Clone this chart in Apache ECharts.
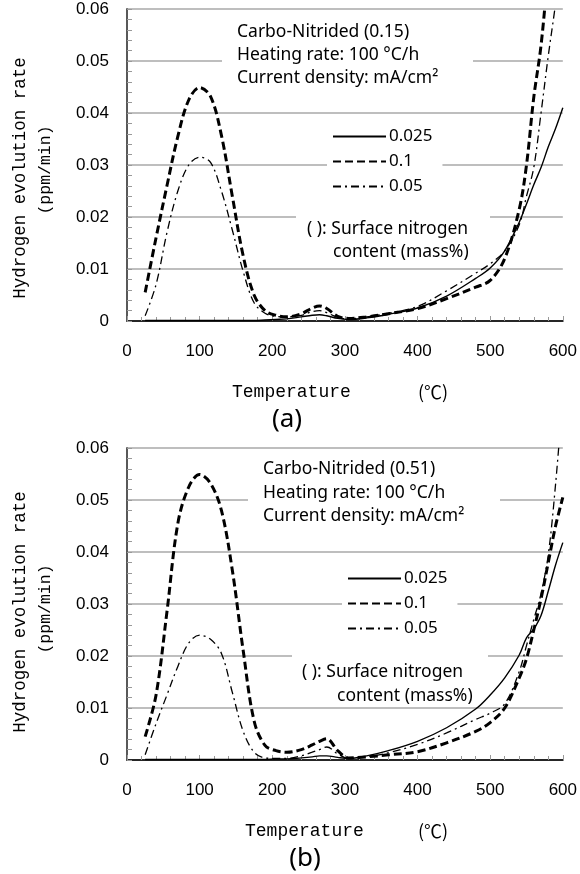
<!DOCTYPE html>
<html>
<head>
<meta charset="utf-8">
<title>Hydrogen evolution rate</title>
<script src="https://cdn.jsdelivr.net/npm/echarts@6/dist/echarts.min.js"></script>
<style>
    html, body { margin: 0; padding: 0; background: #fff; }
    #main { width: 580px; height: 874px; }
</style>
</head>
<body>
<div id="main"></div>
<script>
// temperature (°C) sampled for every curve
var temps = [25, 40, 55, 70, 85, 100, 115, 130, 145, 160, 175, 190, 205, 220, 240, 255, 265, 275,
             290, 305, 330, 360, 400, 440, 480, 500, 520, 540, 550, 560, 570, 580, 590, 600];

// (a) Carbo-Nitrided (0.15)
var a025 = [0.0001, 0.0001, 0.0001, 0.0001, 0.0001, 0.0001, 0.0001, 0.0001, 0.0001, 0.0001, 0.0001, 0.0002,
            0.0003, 0.0004, 0.0008, 0.0011, 0.0012, 0.0010, 0.0005, 0.0003, 0.0006, 0.0013, 0.0025, 0.0048,
            0.0082, 0.0102, 0.0135, 0.0190, 0.0225, 0.0262, 0.0295, 0.0335, 0.0370, 0.0410];
var a01  = [0.0055, 0.0160, 0.0260, 0.0355, 0.0425, 0.0449, 0.0432, 0.0357, 0.0240, 0.0125, 0.0050, 0.0020,
            0.0011, 0.0008, 0.0014, 0.0025, 0.0029, 0.0024, 0.0009, 0.0005, 0.0008, 0.0014, 0.0024, 0.0043,
            0.0065, 0.0078, 0.0120, 0.0215, 0.0300, 0.0430, 0.0530, 0.0680, 0.0850, 0.1000];
var a005 = [0.0010, 0.0070, 0.0170, 0.0250, 0.0300, 0.0315, 0.0305, 0.0250, 0.0175, 0.0095, 0.0035, 0.0015,
            0.0009, 0.0008, 0.0011, 0.0018, 0.0020, 0.0016, 0.0007, 0.0004, 0.0008, 0.0015, 0.0028, 0.0058,
            0.0092, 0.0110, 0.0135, 0.0185, 0.0240, 0.0295, 0.0400, 0.0510, 0.0610, 0.0720];

// (b) Carbo-Nitrided (0.51)
var b025 = [0.0001, 0.0001, 0.0001, 0.0001, 0.0001, 0.0001, 0.0001, 0.0001, 0.0001, 0.0001, 0.0001, 0.0001,
            0.0002, 0.0002, 0.0004, 0.0006, 0.0008, 0.0008, 0.0005, 0.0003, 0.0008, 0.0018, 0.0036, 0.0062,
            0.0098, 0.0125, 0.0158, 0.0202, 0.0235, 0.0252, 0.0278, 0.0325, 0.0375, 0.0418];
var b01  = [0.0045, 0.0125, 0.0285, 0.0455, 0.0525, 0.0549, 0.0532, 0.0480, 0.0365, 0.0210, 0.0075, 0.0028,
            0.0018, 0.0015, 0.0020, 0.0029, 0.0036, 0.0041, 0.0018, 0.0004, 0.0006, 0.0010, 0.0016, 0.0033,
            0.0055, 0.0072, 0.0100, 0.0158, 0.0195, 0.0250, 0.0310, 0.0380, 0.0450, 0.0505];
var b005 = [0.0010, 0.0070, 0.0125, 0.0180, 0.0225, 0.0240, 0.0232, 0.0205, 0.0130, 0.0055, 0.0015, 0.0004,
            0.0003, 0.0003, 0.0008, 0.0015, 0.0020, 0.0025, 0.0012, 0.0003, 0.0006, 0.0014, 0.0030, 0.0052,
            0.0078, 0.0090, 0.0108, 0.0170, 0.0220, 0.0270, 0.0320, 0.0395, 0.0530, 0.0700];

var names = ['0.025', '0.1', '0.05'];
var xTicks = [0, 100, 200, 300, 400, 500, 600];

var SANS = '"Noto Sans", "Liberation Sans", sans-serif';
var ARIAL = '"Liberation Sans", Arial, sans-serif';
var MONO = '"Liberation Mono", "DejaVu Sans Mono", monospace';

function pairs(vals) {
    return temps.map(function (t, i) { return [t, vals[i]]; });
}

var styles = {
    '0.025': { width: 1.4, type: 'solid' },
    '0.1':   { width: 3, type: [8, 4] },
    '0.05':  { width: 1.3, type: [8, 4, 2, 4] }
};

function line(name, vals, idx) {
    return {
        name: name, type: 'line', xAxisIndex: idx, yAxisIndex: idx,
        data: pairs(vals), smooth: 0.35, symbol: 'none', z: 3,
        color: '#000',
        lineStyle: { color: '#000', width: styles[name].width, type: styles[name].type }
    };
}

function xAxis(g) {
    return {
        type: 'value', gridIndex: g, min: 0, max: 600, interval: 100,
        axisLine: { show: true, onZero: false, lineStyle: { color: '#999', width: 2 } },
        axisTick: { show: true, inside: true, length: 5, lineStyle: { color: '#999' } },
        minorTick: { show: true, splitNumber: 5, length: 4, lineStyle: { color: '#999' } },
        splitLine: { show: false },
        axisLabel: { margin: 22, fontSize: 17, fontFamily: ARIAL, color: '#000',
            formatter: function (v) { return xTicks.indexOf(v) >= 0 ? String(v) : ''; } }
    };
}

function yAxis(g) {
    return {
        type: 'value', gridIndex: g, min: 0, max: 0.06, interval: 0.01,
        axisLine: { show: true, onZero: false, lineStyle: { color: '#999', width: 2 } },
        axisTick: { show: true, inside: true, length: 5, lineStyle: { color: '#999' } },
        minorTick: { show: true, splitNumber: 5, length: 5, lineStyle: { color: '#999' } },
        splitLine: { show: true, lineStyle: { color: '#a8a8a8', width: 1.5 } },
        axisLabel: { margin: 18, fontSize: 17, fontFamily: ARIAL, color: '#000',
            formatter: function (v) { return v === 0 ? '0' : v.toFixed(2); } }
    };
}

function frameX(g) {
    return { type: 'value', gridIndex: g, position: 'top', min: 0, max: 600,
        axisLine: { show: true, lineStyle: { color: '#000', width: 1.5 } },
        axisTick: { show: false }, axisLabel: { show: false }, splitLine: { show: false } };
}

function frameY(g) {
    return { type: 'value', gridIndex: g, position: 'right', min: 0, max: 0.06,
        axisLine: { show: true, lineStyle: { color: '#444', width: 1.5 } },
        axisTick: { show: false }, axisLabel: { show: false }, splitLine: { show: false } };
}

function legend(left, top) {
    return {
        left: left, top: top, orient: 'vertical', data: names, selectedMode: false,
        itemWidth: 53, itemHeight: 14, itemGap: 8, padding: [5, 10, 5, 5],
        backgroundColor: '#fff',
        itemStyle: { opacity: 0 },
        textStyle: { fontSize: 17, fontFamily: SANS, color: '#000', padding: [0, 0, 0, -2] }
    };
}

function box(x, y, w, h) {
    return { type: 'rect', z: 1, shape: { x: x, y: y, width: w, height: h }, style: { fill: '#fff' } };
}

function txt(s, x, y, font, align, rot) {
    return {
        type: 'text', z: 5, x: x, y: y, rotation: rot || 0,
        style: { text: s, font: font, fill: '#000', textAlign: align || 'left', textVerticalAlign: 'middle' }
    };
}

var note = '17.5px ' + SANS;
var monoBig = '18px ' + MONO;

var chart = echarts.init(document.getElementById('main'));
chart.setOption({
    animation: false,
    backgroundColor: '#fff',
    grid: [
        { left: 127, top: 9, width: 438, height: 312 },
        { left: 127, top: 448, width: 438, height: 312 }
    ],
    xAxis: [xAxis(0), xAxis(1), frameX(0), frameX(1)],
    yAxis: [yAxis(0), yAxis(1), frameY(0), frameY(1)],
    legend: [legend(327, 123), legend(342, 565)],
    series: [
        line('0.025', a025, 0), line('0.1', a01, 0), line('0.05', a005, 0),
        line('0.025', b025, 1), line('0.1', b01, 1), line('0.05', b005, 1)
    ],
    graphic: { elements: [
        box(222, 18, 251, 74),
        box(296, 207, 194, 55),
        box(248, 455, 252, 74),
        box(292, 650, 196, 54),

        txt('Carbo-Nitrided (0.15)', 237, 32, note),
        txt('Heating rate: 100 °C/h', 237, 55, note),
        txt('Current density: mA/cm²', 237, 78, note),
        txt('( ): Surface nitrogen', 307, 229, note),
        txt('content (mass%)', 333, 252, note),
        txt('Temperature', 232, 392, monoBig),
        txt('(℃)', 418, 392, '18px "Noto Sans CJK JP", sans-serif'),
        txt('(a)', 287, 420, '26px ' + SANS, 'center'),
        txt('Hydrogen evolution rate', 20, 178, '17.5px ' + MONO, 'center', Math.PI / 2),
        txt('(ppm/min)', 46, 170, '16.5px ' + MONO, 'center', Math.PI / 2),

        txt('Carbo-Nitrided (0.51)', 263, 469, note),
        txt('Heating rate: 100 °C/h', 263, 493, note),
        txt('Current density: mA/cm²', 263, 516, note),
        txt('( ): Surface nitrogen', 302, 672, note),
        txt('content (mass%)', 337, 696, note),
        txt('Temperature', 245, 831, monoBig),
        txt('(℃)', 418, 831, '18px "Noto Sans CJK JP", sans-serif'),
        txt('(b)', 305, 859, '26px ' + SANS, 'center'),
        txt('Hydrogen evolution rate', 20, 612, '17.5px ' + MONO, 'center', Math.PI / 2),
        txt('(ppm/min)', 46, 609, '16.5px ' + MONO, 'center', Math.PI / 2)
    ] }
});
</script>
</body>
</html>
